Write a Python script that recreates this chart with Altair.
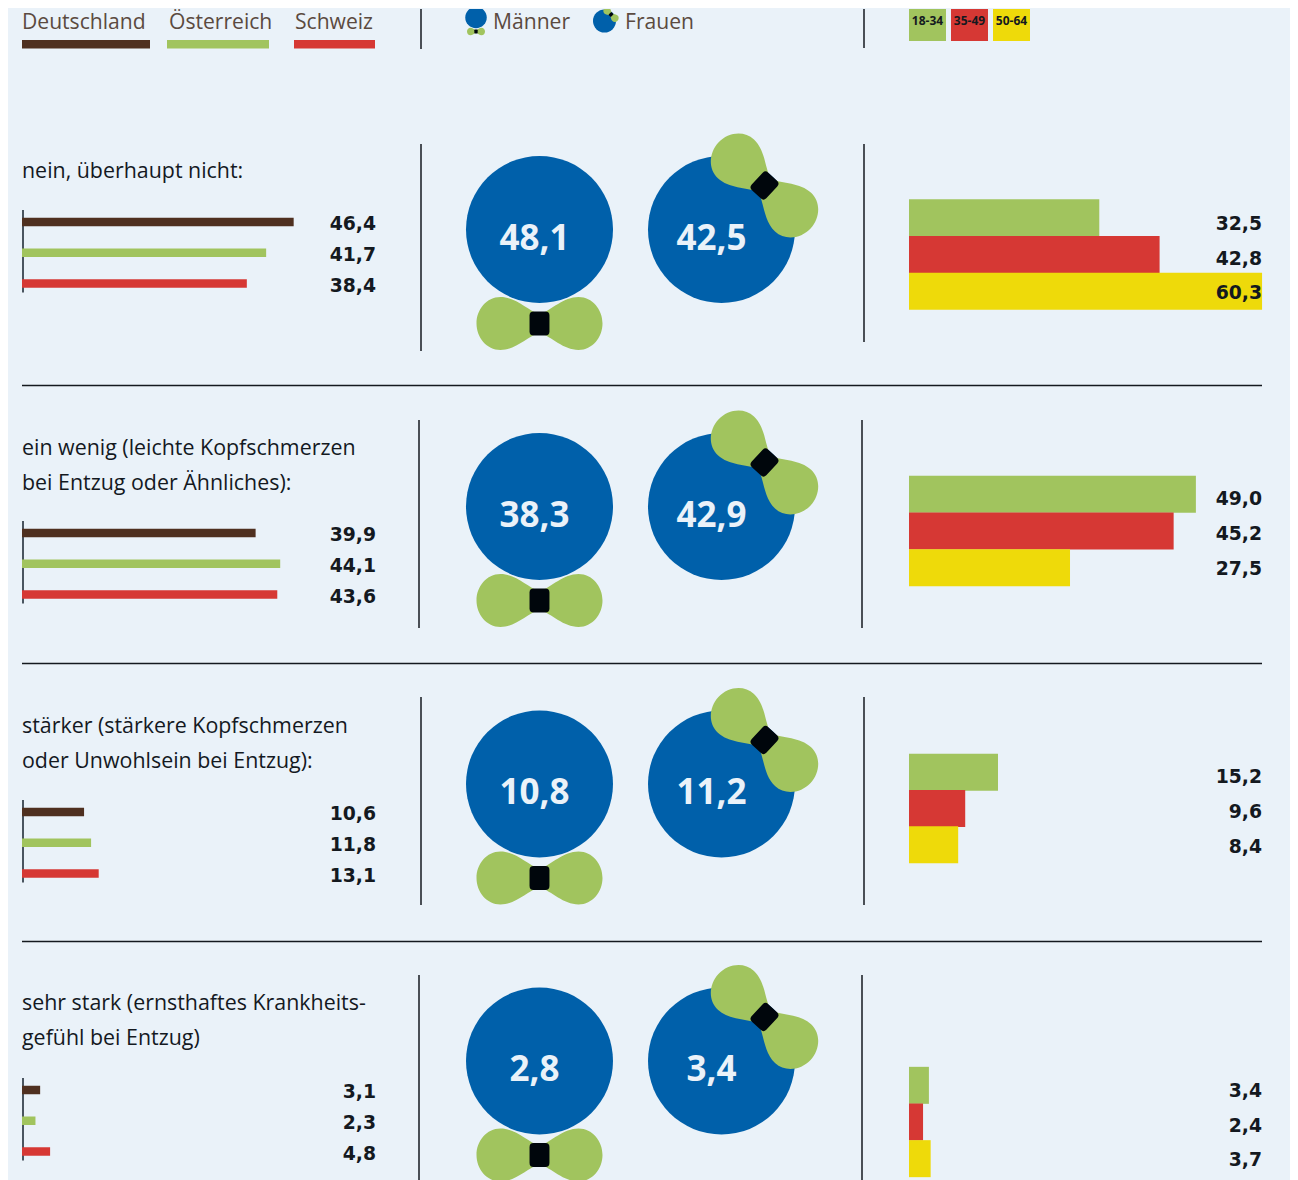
import altair as alt
import pandas as pd

BG = "#EAF2F9"; BROWN = "#4F3020"; GREEN = "#A1C45E"; RED = "#D63834"; YELLOW = "#EEDA0A"
BLUE = "#0060AA"; INK = "#14191F"; LEGEND_INK = "#5B4A40"; KNOT = "#00060C"

countries = ["Deutschland", "Österreich", "Schweiz"]
country_colors = [BROWN, GREEN, RED]
genders = ["Männer", "Frauen"]
ages = ["18-34", "35-49", "50-64"]
age_colors = [GREEN, RED, YELLOW]

labels = [
    "nein, überhaupt nicht:",
    "ein wenig (leichte Kopfschmerzen\nbei Entzug oder Ähnliches):",
    "stärker (stärkere Kopfschmerzen\noder Unwohlsein bei Entzug):",
    "sehr stark (ernsthaftes Krankheits-\ngefühl bei Entzug)",
]
by_country = [[46.4, 41.7, 38.4], [39.9, 44.1, 43.6], [10.6, 11.8, 13.1], [3.1, 2.3, 4.8]]
by_gender = [[48.1, 42.5], [38.3, 42.9], [10.8, 11.2], [2.8, 3.4]]
by_age = [[32.5, 42.8, 60.3], [49.0, 45.2, 27.5], [15.2, 9.6, 8.4], [3.4, 2.4, 3.7]]

BODY = "Open Sans"
VALUE = "DejaVu Sans"
BOW = ("M0,-.14 C.2,-.22 .38,-.42 .62,-.42 C.84,-.42 1,-.22 1,0 C1,.22 .84,.42 .62,.42 "
       "C.38,.42 .2,.22 0,.14 C-.2,.22 -.38,.42 -.62,.42 C-.84,.42 -1,.22 -1,0 "
       "C-1,-.22 -.84,-.42 -.62,-.42 C-.38,-.42 -.2,-.22 0,-.14Z")
KNOT_PATH = ("M-.5,-1 L.5,-1 Q.83,-1 .83,-.67 L.83,.67 Q.83,1 .5,1 L-.5,1 Q-.83,1 -.83,.67 "
             "L-.83,-.67 Q-.83,-1 -.5,-1Z")

# per-row layout (pixels inside a row panel)
text_base = [70, 69, 69, 68]
left_first = [114, 147, 148, 148]
right_span = [(91.5, 201.5), (90, 200), (90, 199), (125, 235)]
right_labels = [(116, 185), (113, 183), (112.5, 182.5), (149, 218)]
circle_y = [121.5, 120.5, 120, 119]
rule_x = [0, -2, 0, -2]
rule_span = [(36, 243, 234), (34, 242, 242), (33, 241, 241), (33, 278, 278)]
STEP = 30.75
PX = 5.855
ROW_H = 278
one = pd.DataFrame({"a": [0]})


def fmt(v):
    return f"{v:.1f}".replace(".", ",")


def vrule(x, y0, y1, color=INK, width=1.5):
    return alt.Chart(one).mark_rule(color=color, strokeWidth=width).encode(
        x=alt.value(x), y=alt.value(y0), y2=alt.value(y1))


def left_panel(i):
    df = pd.DataFrame({"c": countries, "v": by_country[i], "col": country_colors,
                       "t": [fmt(v) for v in by_country[i]]})
    c1 = left_first[i]
    y = alt.Y("c:N", axis=None, scale=alt.Scale(domain=countries, range=[c1 - STEP / 2, c1 + 2.5 * STEP],
                                                paddingInner=0, paddingOuter=0))
    x = alt.X("v:Q", axis=None, scale=alt.Scale(domain=[0, 399 / PX], range=[0, 399], nice=False))
    bars = alt.Chart(df).mark_bar(size=8.5).encode(x=x, y=y, color=alt.Color("col:N", scale=None))
    vals = alt.Chart(df).mark_text(align="right", baseline="middle", dy=2, font=VALUE, fontWeight="bold",
                                   fontSize=18.8, color=INK).encode(x=alt.value(354), y=y, text="t:N")
    label = alt.Chart(pd.DataFrame({"t": [labels[i]]})).mark_text(
        align="left", baseline="alphabetic", font=BODY, fontSize=21.4, color=INK, lineBreak="\n",
        lineHeight=35).encode(x=alt.value(0), y=alt.value(text_base[i]), text="t:N")
    axis = vrule(1, c1 - 12, c1 + 2 * STEP + 9, color="#4A5560", width=2)
    sep = []
    if i < 3:
        sep = [alt.Chart(one).mark_rule(color=INK, strokeWidth=1.5).encode(
            x=alt.value(0), x2=alt.value(1240), y=alt.value(277.5))]
    return alt.layer(axis, bars, vals, label, *sep).properties(width=399, height=ROW_H)


def mid_panel(i):
    df = pd.DataFrame({"g": genders, "v": by_gender[i], "t": [fmt(v) for v in by_gender[i]]})
    x = alt.X("g:N", axis=None, scale=alt.Scale(domain=genders, range=[118.5, 300.5], type="point", padding=0))
    cy = alt.value(circle_y[i])
    men = df[df.g == genders[0]]
    women = df[df.g == genders[1]]
    disc = alt.Chart(df).mark_point(shape="circle", filled=True, color=BLUE, opacity=1, strokeWidth=0,
                                    size=21609).encode(x=x, y=cy)
    t_m = alt.Chart(men).mark_text(align="center", baseline="alphabetic", dx=-5, dy=20, font=BODY,
                                   fontWeight="bold", fontSize=35, color=BG).encode(x=x, y=cy, text="t:N")
    t_w = alt.Chart(women).mark_text(align="center", baseline="alphabetic", dx=-10, dy=20, font=BODY,
                                     fontWeight="bold", fontSize=35, color=BG).encode(x=x, y=cy, text="t:N")
    def glyph(d, shape, size, color, dx, dy, angle=0):
        return alt.Chart(d).mark_point(shape=shape, filled=True, color=color, opacity=1, strokeWidth=0, size=size,
                                       angle=angle, xOffset=dx, yOffset=dy).encode(x=x, y=cy)
    parts = [disc, t_m, t_w,
             glyph(men, BOW, 15876, GREEN, 0, 94),
             glyph(men, KNOT_PATH, 576, KNOT, 0, 94),
             glyph(women, BOW, 15876, GREEN, 43, -44, 43),
             glyph(women, KNOT_PATH, 576, KNOT, 43, -44, 43)]
    y0, y1, _ = rule_span[i]
    return alt.layer(vrule(rule_x[i], y0, y1), *parts).properties(width=443, height=ROW_H)


def right_panel(i):
    df = pd.DataFrame({"a": ages, "v": by_age[i], "col": age_colors, "t": [fmt(v) for v in by_age[i]]})
    top, bot = right_span[i]
    y = alt.Y("a:N", axis=None, scale=alt.Scale(domain=ages, range=[top, bot], paddingInner=0, paddingOuter=0))
    x = alt.X("v:Q", axis=None, scale=alt.Scale(domain=[0, 353 / PX], range=[45, 398], nice=False))
    bars = alt.Chart(df).mark_bar(size=37).encode(x=x, y=y, color=alt.Color("col:N", scale=None))
    la, lb = right_labels[i]
    s = (lb - la) / 2
    yl = alt.Y("a:N", axis=None, scale=alt.Scale(domain=ages, range=[la - s / 2, lb + s / 2],
                                                 paddingInner=0, paddingOuter=0))
    vals = alt.Chart(df).mark_text(align="right", baseline="middle", font=VALUE, fontWeight="bold", fontSize=18.8,
                                   color=INK).encode(x=alt.value(398), y=yl, text="t:N")
    _, _, y1 = rule_span[i]
    rule = vrule(rule_x[i], rule_span[i][0], y1)
    return alt.layer(rule, bars, vals).resolve_scale(y="independent").properties(width=398, height=ROW_H)


def legend_text(name, px, color=LEGEND_INK):
    return alt.Chart(pd.DataFrame({"t": [name]})).mark_text(
        align="left", baseline="alphabetic", font=BODY, fontSize=21.1, color=color).encode(
        x=alt.value(px), y=alt.value(20), text="t:N")


def legend_left():
    layers = []
    for name, col, tx, x0, x1 in zip(countries, country_colors, [0, 147, 273], [0, 145, 272], [128, 247, 353]):
        layers.append(legend_text(name, tx))
        layers.append(alt.Chart(one).mark_rule(color=col, strokeWidth=8.5).encode(
            x=alt.value(x0), x2=alt.value(x1), y=alt.value(35.25)))
    return alt.layer(*layers).properties(width=399, height=99)


def legend_mid():
    def g(shape, size, color, px, py, angle=0):
        return alt.Chart(one).mark_point(shape=shape, filled=True, color=color, opacity=1, strokeWidth=0, size=size,
                                         angle=angle, clip=True).encode(x=alt.value(px), y=alt.value(py))
    layers = [
        vrule(0, 0, 40),
        g("circle", 462, BLUE, 55, 8.5), g(BOW, 324, GREEN, 55, 22.5), g(KNOT_PATH, 16, KNOT, 55, 22.5),
        g("circle", 529, BLUE, 183.5, 12), g(BOW, 324, GREEN, 190, 5.5, 43), g(KNOT_PATH, 16, KNOT, 190, 5.5, 43),
        legend_text(genders[0], 72), legend_text(genders[1], 204),
    ]
    return alt.layer(*layers).properties(width=443, height=99)


def legend_right():
    adf = pd.DataFrame({"a": ages, "col": age_colors})
    ax = alt.X("a:N", axis=None, scale=alt.Scale(domain=ages, range=[63.5, 147.5], type="point", padding=0))
    sw = alt.Chart(adf).mark_point(shape="square", filled=True, opacity=1, strokeWidth=0, size=1369, clip=True).encode(
        x=ax, y=alt.value(13.5), color=alt.Color("col:N", scale=None))
    tx = alt.Chart(adf).mark_text(align="center", baseline="middle", font=BODY, fontWeight="bold",
                                  fontSize=12, color=INK).encode(x=ax, y=alt.value(12), text="a:N")
    return alt.layer(vrule(0, 0, 39), sw, tx).properties(width=398, height=99)


panels = [legend_left(), legend_mid(), legend_right()]
for i in range(4):
    panels += [left_panel(i), mid_panel(i), right_panel(i)]
chart = alt.concat(*panels, columns=3, spacing=0, bounds="flush").properties(
    background=BG, padding={"left": 9, "top": 0, "right": 27, "bottom": 0}
).configure_view(stroke=None)

chart.save("out.html", embed_options={"renderer": "svg", "actions": False})
